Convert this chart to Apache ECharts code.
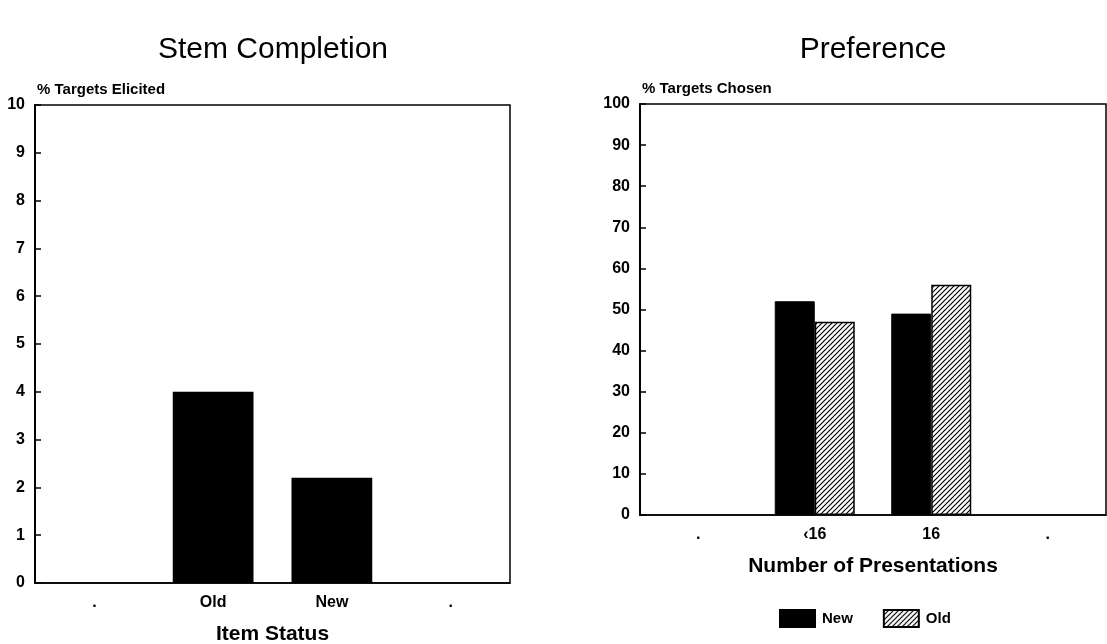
<!DOCTYPE html>
<html><head><meta charset="utf-8">
<script src="https://cdn.jsdelivr.net/npm/echarts@6/dist/echarts.min.js"></script>
<style>html,body{margin:0;padding:0;background:#fff}#c{width:1107px;height:644px}</style>
</head><body><div id="c"></div>
<script>
const stemCategories = ['.', 'Old', 'New', '.'];
const stemValues = [null, 4.0, 2.2, null];
const stemTicks = [0,1,2,3,4,5,6,7,8,9,10];

const prefCategories = ['.', '‹16', '16', '.'];
const prefNew = [null, 52, 49, null];
const prefOld = [null, 47, 56, null];
const prefTicks = [0,10,20,30,40,50,60,70,80,90,100];

function hatch(){
  const c = document.createElement('canvas');
  c.width = 5; c.height = 5;
  const g = c.getContext('2d');
  g.fillStyle = '#fff'; g.fillRect(0,0,5,5);
  g.strokeStyle = '#000'; g.lineWidth = 1.2;
  g.beginPath();
  g.moveTo(-1,6); g.lineTo(6,-1);
  g.moveTo(-3.5,3.5); g.lineTo(3.5,-3.5);
  g.moveTo(1.5,8.5); g.lineTo(8.5,1.5);
  g.stroke();
  return {image: c, repeat: 'repeat'};
}
const FONT = '"Liberation Sans", Arial, sans-serif';
const chart = echarts.init(document.getElementById('c'));
const axisLabel = {color:'#000', fontFamily: FONT, fontWeight:'bold', fontSize:16};
function yAxis(idx, max, interval, name, margin){
  return {gridIndex: idx, type:'value', min:0, max:max, interval:interval,
    name:name, nameLocation:'end', nameGap:8,
    nameTextStyle:{color:'#000', fontFamily:FONT, fontWeight:'bold', fontSize:15, align:'left', padding:[0,0,0,2]},
    axisLine:{show:true, lineStyle:{color:'#000', width:2}},
    axisTick:{show:true, inside:true, length:6, lineStyle:{color:'#000', width:1.5}},
    splitLine:{show:false},
    axisLabel:Object.assign({margin:margin}, axisLabel)};
}
function xAxis(idx, cats, name, gap, margin){
  return {gridIndex: idx, type:'category', data:cats,
    name:name, nameLocation:'middle', nameGap:gap,
    nameTextStyle:{color:'#000', fontFamily:FONT, fontWeight:'bold', fontSize:21},
    axisLine:{show:true, lineStyle:{color:'#000', width:1.5}},
    axisTick:{show:false},
    axisLabel:Object.assign({margin:margin, interval:0}, axisLabel)};
}
chart.setOption({
  animation:false,
  title:[
    {text:'Stem Completion', left:268, top:30, textAlign:'center',
     textStyle:{fontFamily:FONT, fontWeight:'normal', fontSize:30, color:'#000'}},
    {text:'Preference', left:868, top:30, textAlign:'center',
     textStyle:{fontFamily:FONT, fontWeight:'normal', fontSize:30, color:'#000'}}
  ],
  legend:{left:774, top:604, itemWidth:35, itemHeight:17, itemGap:30, icon:'rect',
    data:['New','Old'],
    textStyle:{fontFamily:FONT, fontWeight:'bold', fontSize:15, color:'#000', padding:[0,0,0,2]}},
  grid:[
    {left:35, top:105, width:475, height:478, show:true, borderColor:'#000', borderWidth:1.5,
     backgroundColor:'transparent', outerBoundsMode:'none', containLabel:false},
    {left:640, top:104, width:466, height:411, show:true, borderColor:'#000', borderWidth:1.5,
     backgroundColor:'transparent', outerBoundsMode:'none', containLabel:false}
  ],
  xAxis:[xAxis(0, stemCategories, 'Item Status', 41, 12), xAxis(1, prefCategories, 'Number of Presentations', 41, 12)],
  yAxis:[yAxis(0, 10, 1, '% Targets Elicited', 10), yAxis(1, 100, 10, '% Targets Chosen', 10)],
  series:[
    {type:'bar', name:'Stem', xAxisIndex:0, yAxisIndex:0, data:stemValues, barWidth:'68%',
     itemStyle:{color:'#000'}},
    {type:'bar', name:'New', xAxisIndex:1, yAxisIndex:1, data:prefNew, barWidth:40, barGap:'0%',
     itemStyle:{color:'#000', borderColor:'#000', borderWidth:1}},
    {type:'bar', name:'Old', xAxisIndex:1, yAxisIndex:1, data:prefOld, barWidth:40, barGap:'0%',
     itemStyle:{color:hatch(), borderColor:'#000', borderWidth:1.5}}
  ]
});
</script></body></html>
